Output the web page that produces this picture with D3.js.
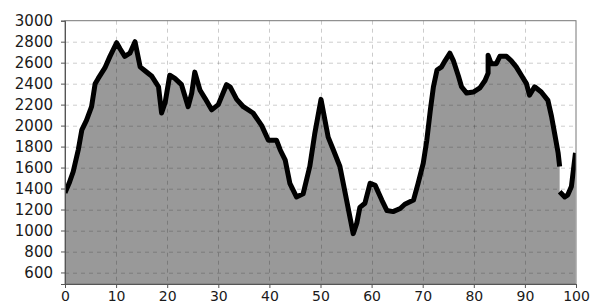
<!DOCTYPE html>
<html>
<head>
<meta charset="utf-8">
<script src="https://cdn.jsdelivr.net/npm/d3@7"></script>
<style>
body { margin: 0; background: #fff; }
text { font-family: "DejaVu Sans", sans-serif; }
</style>
</head>
<body>
<div id="chart"></div>
<script>
// elevation profile, distance in km, elevation in m (null = gap in the line)
var distance = [0, 0.8, 1.6, 2.6, 3.3, 4.2, 5.2, 5.9, 6.5, 7.8, 8.8, 10.1, 10.8, 11.7, 12.7, 13.7, 14.7, 15.7, 17.0, 18.3,
	18.9, 19.6, 20.5, 21.5, 22.8, 24.1, 24.8, 25.4, 26.4, 27.4, 28.7, 30.0, 31.6, 32.3, 33.6, 34.9, 36.8, 38.5, 39.8, 41.4,
	42.1, 43.1, 44.0, 45.3, 46.6, 47.9, 48.9, 50.1, 51.5, 52.5, 53.8, 55.1, 56.4, 57.1, 57.7, 58.7, 59.7, 60.7, 62.0, 63.0,
	64.2, 65.6, 66.5, 68.2, 69.1, 70.1, 70.8, 71.5, 72.1, 72.8, 73.7, 74.4, 75.3, 76.0, 77.0, 77.6, 78.6, 79.9, 81.2, 82.2,
	82.8, 82.8, 83.4, 84.4, 85.1, 86.4, 87.3, 88.3, 89.3, 90.3, 90.9, 91.9, 93.2, 94.5, 95.2, 95.8, 96.5, 96.8, 96.8, 96.8,
	97.8, 98.4, 99.1, 99.9];
var elevation = [1360, 1450, 1560, 1770, 1960, 2050, 2180, 2400, 2450, 2550, 2660, 2790, 2730, 2660, 2690, 2800, 2560, 2520, 2470, 2370,
	2120, 2220, 2480, 2450, 2390, 2180, 2310, 2510, 2340, 2260, 2150, 2200, 2390, 2370, 2250, 2180, 2120, 2000, 1860, 1860,
	1770, 1670, 1450, 1320, 1350, 1610, 1930, 2250, 1890, 1770, 1610, 1290, 970, 1070, 1220, 1260, 1450, 1430, 1290, 1190,
	1180, 1210, 1250, 1290, 1450, 1640, 1860, 2150, 2370, 2530, 2560, 2620, 2690, 2620, 2470, 2370, 2310, 2320, 2360, 2430,
	2500, 2670, 2590, 2590, 2660, 2660, 2620, 2560, 2480, 2400, 2290, 2370, 2320, 2240, 2090, 1930, 1740, 1610, null, 1370,
	1320, 1340, 1420, 1740];

var xTicks = [0, 10, 20, 30, 40, 50, 60, 70, 80, 90, 100];
var yTicks = [600, 800, 1000, 1200, 1400, 1600, 1800, 2000, 2200, 2400, 2600, 2800, 3000];

var width = 592, height = 305;
var margin = {top: 20.7, right: 16, bottom: 21, left: 65};
var w = width - margin.left - margin.right;
var h = height - margin.top - margin.bottom;

var points = distance.map(function(d, i) { return {km: d, ele: elevation[i]}; });

var svg = d3.select("#chart").append("svg")
	.attr("width", width)
	.attr("height", height);

var x = d3.scaleLinear().domain([0, 100]).range([0, w]);
var y = d3.scaleLinear().domain([490, 3000]).range([h, 0]);

var g = svg.append("g").attr("transform", "translate(" + margin.left + "," + margin.top + ")");

g.append("clipPath").attr("id", "clip")
	.append("rect").attr("width", w).attr("height", h);

var area = d3.area()
	.x(function(d) { return x(d.km); })
	.y0(h)
	.y1(function(d) { return y(d.ele); });

var line = d3.line()
	.defined(function(d) { return d.ele != null; })
	.x(function(d) { return x(d.km); })
	.y(function(d) { return y(d.ele); });

g.append("path")
	.datum(points.filter(function(d) { return d.ele != null; }))
	.attr("d", area)
	.attr("fill", "#999999")
	.attr("clip-path", "url(#clip)");

// dashed grid on top of the fill
g.selectAll(".vgrid").data(xTicks.slice(1, -1)).enter().append("line")
	.attr("x1", function(d) { return Math.round(x(d)) + 0.5; })
	.attr("x2", function(d) { return Math.round(x(d)) + 0.5; })
	.attr("y1", 0).attr("y2", h)
	.attr("stroke", "rgba(0,0,0,0.2)")
	.attr("stroke-dasharray", "4,4");

g.selectAll(".hgrid").data(yTicks.slice(0, -1)).enter().append("line")
	.attr("x1", 0).attr("x2", w)
	.attr("y1", function(d) { return Math.round(y(d)) + 0.5; })
	.attr("y2", function(d) { return Math.round(y(d)) + 0.5; })
	.attr("stroke", "rgba(0,0,0,0.2)")
	.attr("stroke-dasharray", "4,4");

g.append("path")
	.datum(points)
	.attr("d", line)
	.attr("fill", "none")
	.attr("stroke", "#000")
	.attr("stroke-width", 5)
	.attr("stroke-linejoin", "round")
	.attr("clip-path", "url(#clip)");

// frame
g.append("rect")
	.attr("x", 0).attr("y", 0)
	.attr("width", w).attr("height", h)
	.attr("fill", "none")
	.attr("stroke", "#777")
	.attr("stroke-width", 1);

var xAxis = g.append("g")
	.attr("transform", "translate(0," + h + ")")
	.call(d3.axisBottom(x).tickValues(xTicks).tickFormat(d3.format("d")).tickSize(4).tickPadding(3));

var yAxis = g.append("g")
	.call(d3.axisLeft(y).tickValues(yTicks).tickFormat(d3.format("d")).tickSize(4).tickPadding(8));

[xAxis, yAxis].forEach(function(a) {
	a.select(".domain").attr("stroke", "#555");
	a.selectAll(".tick line").attr("stroke", "#555");
	a.selectAll("text")
		.attr("font-family", "DejaVu Sans, sans-serif")
		.attr("font-size", "14px")
		.attr("fill", "#1a1a1a");
});
yAxis.selectAll("text").attr("font-size", "15px");
</script>
</body>
</html>
